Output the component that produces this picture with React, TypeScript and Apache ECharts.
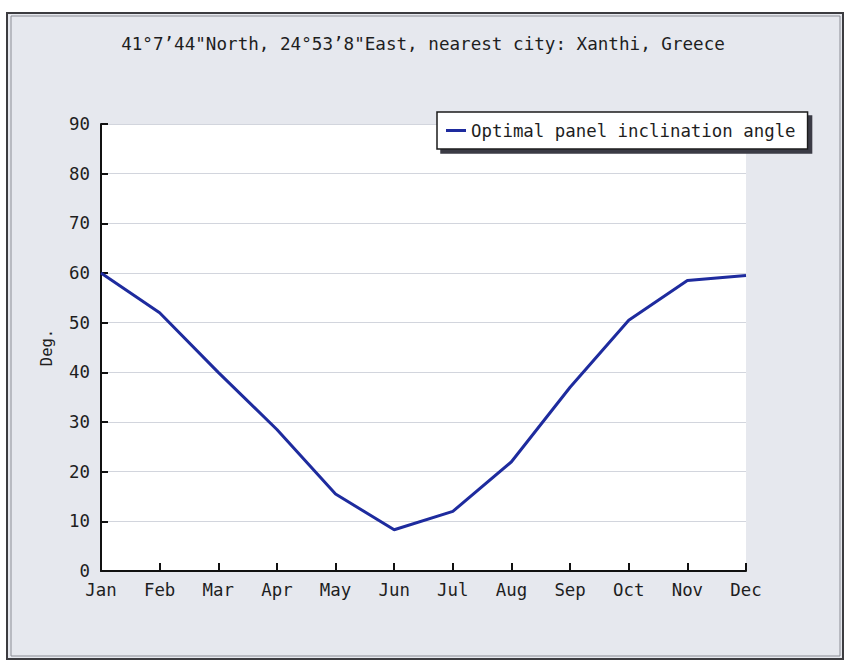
import React, { useEffect, useRef } from "react";
import * as echarts from "echarts";

const months = ["Jan", "Feb", "Mar", "Apr", "May", "Jun", "Jul", "Aug", "Sep", "Oct", "Nov", "Dec"];
const optimalAngle = [60, 52, 40, 28.5, 15.5, 8.3, 12, 22, 37, 50.5, 58.5, 59.5];
const seriesName = "Optimal panel inclination angle";
const titleText = "41°7’44\"North, 24°53’8\"East, nearest city: Xanthi, Greece";
const yAxisName = "Deg.";

const MONO = "'DejaVu Sans Mono', 'Liberation Mono', monospace";
const INK = "#1e1e1e";

export default function App() {
  const ref = useRef<HTMLDivElement>(null);

  useEffect(() => {
    if (!ref.current) return;
    const chart = echarts.init(ref.current, null, { renderer: "svg" });
    chart.setOption({
      animation: false,
      backgroundColor: "#ffffff",
      graphic: {
        elements: [
          {
            type: "rect",
            z: -10,
            shape: { x: 7, y: 13, width: 836, height: 646 },
            style: { fill: "#e6e8ee", stroke: "#3c3c40", lineWidth: 2 },
          },
          {
            type: "rect",
            z: -9,
            shape: { x: 11, y: 16, width: 829, height: 640 },
            style: { fill: "none", stroke: "#8a8c94", lineWidth: 1 },
          },
        ],
      },
      title: {
        text: titleText,
        left: "center",
        top: 30,
        textStyle: { fontFamily: MONO, fontSize: 17.6, fontWeight: "normal", color: INK },
      },
      legend: {
        left: 437,
        top: 112,
        padding: [10, 12, 10, 9],
        backgroundColor: "#ffffff",
        borderColor: "#1a1a1a",
        borderWidth: 1.5,
        shadowColor: "#3a3a44",
        shadowBlur: 0,
        shadowOffsetX: 4,
        shadowOffsetY: 4,
        icon: "rect",
        itemWidth: 20,
        itemHeight: 3,
        textStyle: { fontFamily: MONO, fontSize: 17.4, color: INK },
        data: [seriesName],
      },
      grid: {
        left: 101,
        right: 100,
        top: 124,
        bottom: 92,
        show: true,
        backgroundColor: "#ffffff",
        borderWidth: 0,
      },
      xAxis: {
        type: "category",
        data: months,
        boundaryGap: false,
        axisLine: { lineStyle: { color: "#111", width: 2 } },
        axisTick: { inside: true, length: 8, lineStyle: { color: "#111", width: 2 } },
        axisLabel: { margin: 10, fontFamily: MONO, fontSize: 17.4, color: INK },
        splitLine: { show: false },
      },
      yAxis: {
        type: "value",
        min: 0,
        max: 90,
        interval: 10,
        name: yAxisName,
        nameLocation: "middle",
        nameGap: 46,
        nameTextStyle: { fontFamily: MONO, fontSize: 15.5, color: INK },
        axisLine: { show: true, lineStyle: { color: "#111", width: 2 } },
        axisTick: { show: true, inside: true, length: 7, lineStyle: { color: "#111", width: 2 } },
        axisLabel: { margin: 11, fontFamily: MONO, fontSize: 17.4, color: INK },
        splitLine: { show: true, lineStyle: { color: "#d2d5dd", width: 1 } },
      },
      series: [
        {
          name: seriesName,
          type: "line",
          data: optimalAngle,
          symbol: "none",
          lineStyle: { color: "#1e2b9e", width: 3 },
          itemStyle: { color: "#1e2b9e" },
        },
      ],
    });
    return () => chart.dispose();
  }, []);

  return (
    <div
      ref={ref}
      style={{ position: "absolute", left: 0, top: 0, width: 846, height: 663 }}
    />
  );
}
